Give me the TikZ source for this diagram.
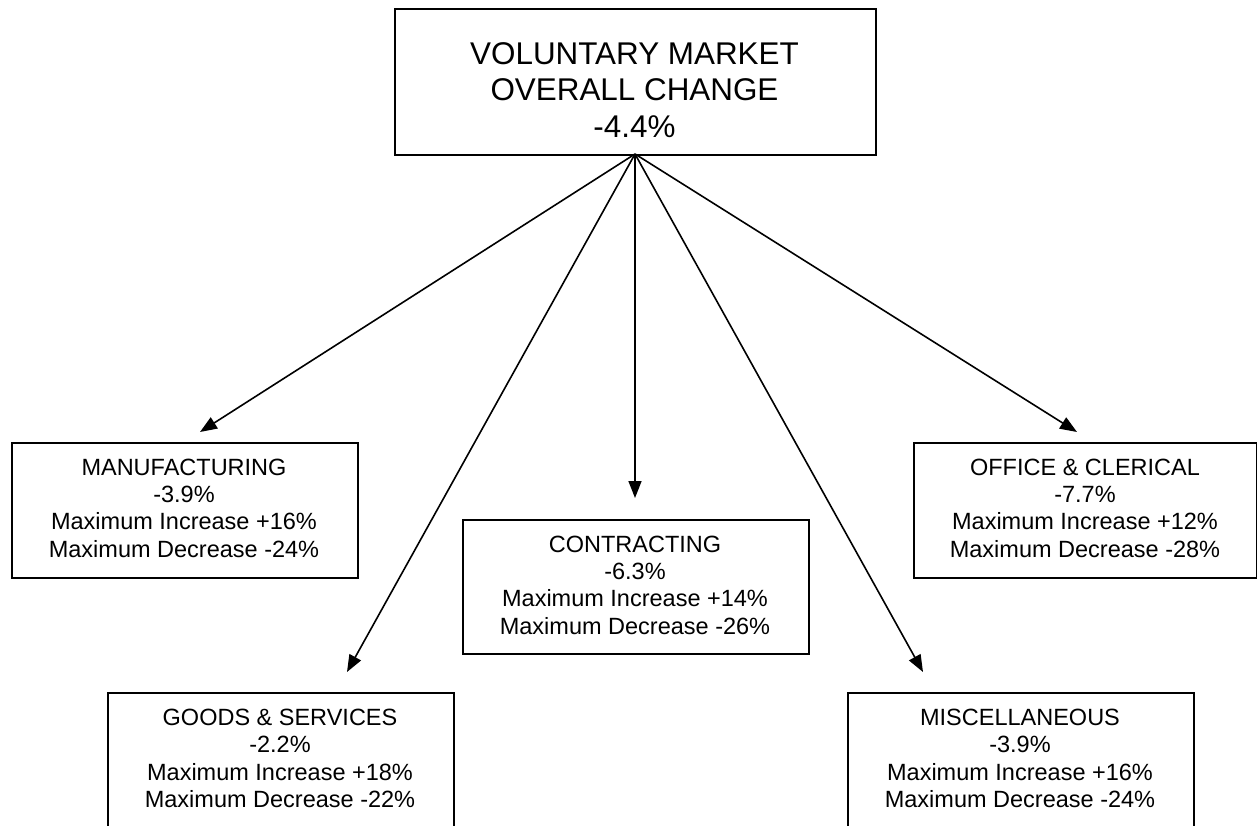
\documentclass[tikz,border=0pt]{standalone}
\usepackage{fontspec}
\setmainfont{Liberation Sans}
\usetikzlibrary{arrows.meta}
\tikzset{
  boxframe/.style={draw, line width=1.6pt, inner sep=0pt, anchor=north west},
  boxtext/.style={align=center, inner sep=0pt, anchor=center, font=\fontsize{23.5}{27.4}\selectfont},
  toptext/.style={align=center, inner sep=0pt, anchor=center, font=\fontsize{31.4}{36.2}\selectfont},
  link/.style={line width=1.6pt, -{Triangle[length=17pt,width=13pt]}}
}
\begin{document}
\begin{tikzpicture}[x=1pt,y=-1pt]
\useasboundingbox (0,0) rectangle (1257,825);
\clip (0,0) rectangle (1257,825);
% top box
\node[boxframe, minimum width=481pt, minimum height=146pt] (top) at (394,8) {};
\node[toptext] (toplbl) at (634.5,90) {VOLUNTARY MARKET\\OVERALL CHANGE\\-4.4\%};
% category boxes
\node[boxframe, minimum width=346pt, minimum height=135pt] (man) at (11,442) {};
\node[boxtext] (manlbl) at (184,508) {MANUFACTURING\\-3.9\%\\Maximum Increase +16\%\\Maximum Decrease -24\%};
\node[boxframe, minimum width=343pt, minimum height=135pt] (off) at (913,442) {};
\node[boxtext] (offlbl) at (1085,508) {OFFICE \& CLERICAL\\-7.7\%\\Maximum Increase +12\%\\Maximum Decrease -28\%};
\node[boxframe, minimum width=346pt, minimum height=134pt] (con) at (462,519) {};
\node[boxtext] (conlbl) at (635,585) {CONTRACTING\\-6.3\%\\Maximum Increase +14\%\\Maximum Decrease -26\%};
\node[boxframe, minimum width=346pt, minimum height=160pt] (goo) at (107,692) {};
\node[boxtext] (goolbl) at (280,758.5) {GOODS \& SERVICES\\-2.2\%\\Maximum Increase +18\%\\Maximum Decrease -22\%};
\node[boxframe, minimum width=346pt, minimum height=160pt] (mis) at (847,692) {};
\node[boxtext] (mislbl) at (1020,758.5) {MISCELLANEOUS\\-3.9\%\\Maximum Increase +16\%\\Maximum Decrease -24\%};
% arrow tips
\coordinate (src) at (635,154);
\coordinate (tman) at (200,432);
\coordinate (tgoo) at (347,672);
\coordinate (tcon) at (635,498);
\coordinate (tmis) at (923,672);
\coordinate (toff) at (1077,432);
\draw[link] (src) -- (tman);
\draw[link] (src) -- (tgoo);
\draw[link] (src) -- (tcon);
\draw[link] (src) -- (tmis);
\draw[link] (src) -- (toff);
\end{tikzpicture}
\end{document}
